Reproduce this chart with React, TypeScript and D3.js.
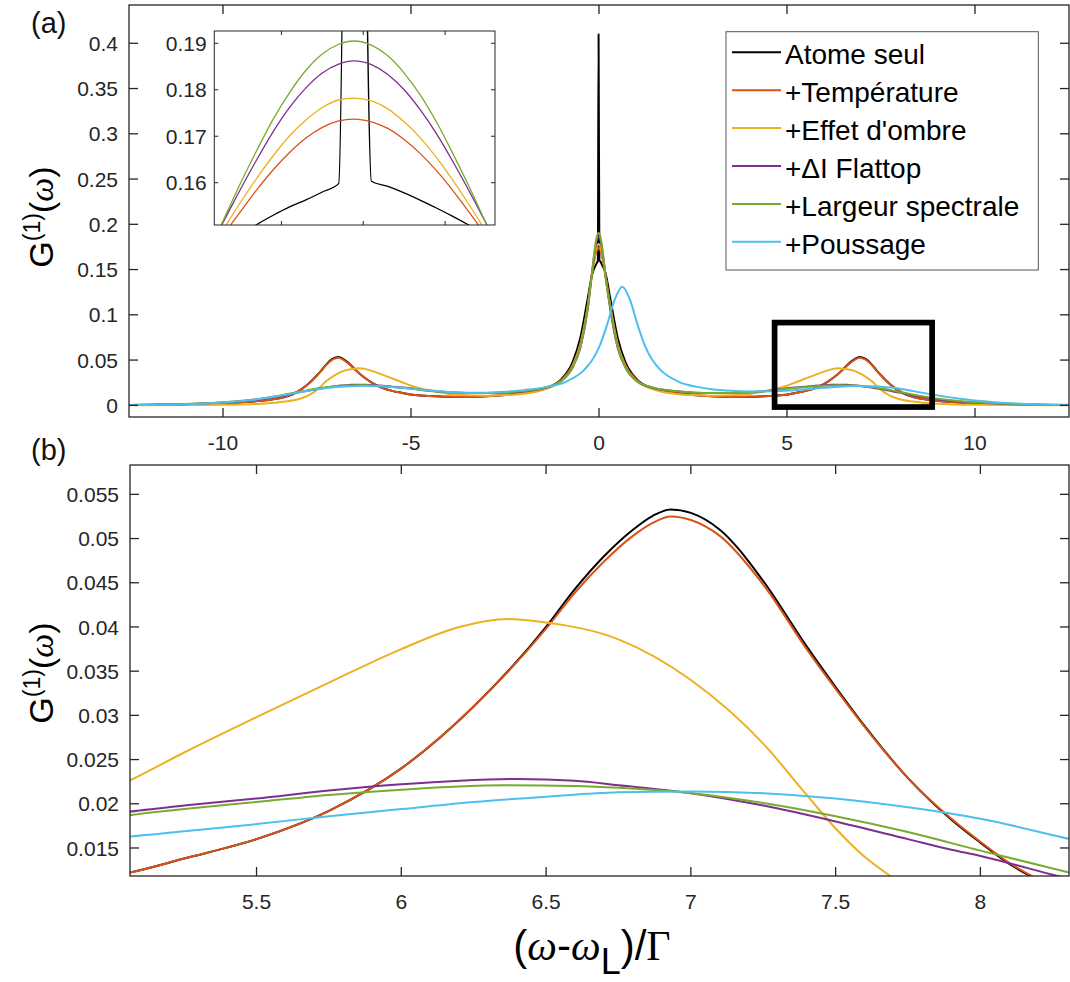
import React from 'react';
import * as d3 from 'd3';

type P = [number, number];

// ---------- DATA ----------
const seriesNames = ["Atome seul", "+Température", "+Effet d'ombre", "+\u0394I Flattop", "+Largeur spectrale", "+Poussage"];
const seriesColors = ["#000000", "#D95319", "#EDB120", "#7E2F8E", "#77AC30", "#4DBEEE"];

const atomeSeul: P[] = [
  [-12.5, 0.0004], [-11, 0.0011], [-10, 0.0023], [-9.5, 0.0033], [-9, 0.005], [-8.5, 0.0078], [-8.3, 0.0099], [-8.18, 0.0117], [-8.1, 0.0132], [-8, 0.0156], [-7.9, 0.0182], [-7.75, 0.0229], [-7.6, 0.0288], [-7.5, 0.0332], [-7.4, 0.0378], [-7.25, 0.0452], [-7.1, 0.051], [-7, 0.0529], [-6.93, 0.0533], [-6.87, 0.0526], [-6.8, 0.051], [-6.7, 0.048], [-6.6, 0.0443], [-6.5, 0.04], [-6.25, 0.031], [-6, 0.024], [-5.75, 0.0192], [-5.5, 0.016], [-5.25, 0.0138], [-5.06, 0.0122], [-4.5, 0.0103], [-4, 0.0094], [-3.5, 0.0093], [-3, 0.01], [-2.5, 0.0115], [-2, 0.0138], [-1.5, 0.0178], [-1, 0.029], [-0.7, 0.048], [-0.5, 0.074], [-0.3, 0.118],
  [-0.19, 0.1432], [-0.17, 0.1462], [-0.15, 0.1487], [-0.13, 0.151], [-0.11, 0.153], [-0.09, 0.1548], [-0.07, 0.1563], [-0.05, 0.158], [-0.03, 0.1598], [-0.0115, 0.41], [0.01, 0.1603], [0.03, 0.1592], [0.05, 0.1578], [0.07, 0.1562], [0.09, 0.1545], [0.11, 0.1527], [0.13, 0.1508], [0.15, 0.1488], [0.17, 0.1465],
  [0.3, 0.118], [0.5, 0.074], [0.7, 0.048], [1, 0.029], [1.5, 0.0178], [2, 0.0138], [2.5, 0.0115], [3, 0.01], [3.5, 0.0093], [4, 0.0094], [4.5, 0.0103], [5.06, 0.0122], [5.25, 0.0138], [5.5, 0.016], [5.75, 0.0192], [6, 0.024], [6.25, 0.031], [6.5, 0.04], [6.6, 0.0443], [6.7, 0.048], [6.8, 0.051], [6.87, 0.0526], [6.93, 0.0533], [7, 0.0529], [7.1, 0.051], [7.25, 0.0452], [7.4, 0.0378], [7.5, 0.0332], [7.6, 0.0288], [7.75, 0.0229], [7.9, 0.0182], [8, 0.0156], [8.1, 0.0132], [8.18, 0.0117], [8.3, 0.0099], [8.5, 0.0078], [9, 0.005], [9.5, 0.0033], [10, 0.0023], [11, 0.0011], [12.5, 0.0004],
];

const temperature: P[] = [
  [-12.5, 0.0004], [-11, 0.0011], [-10, 0.0023], [-9.5, 0.0033], [-9, 0.005], [-8.5, 0.0078], [-8.3, 0.01], [-8.18, 0.0118], [-8.1, 0.0133], [-8, 0.0157], [-7.9, 0.0183], [-7.75, 0.0229], [-7.6, 0.0287], [-7.5, 0.033], [-7.4, 0.0375], [-7.25, 0.0448], [-7.1, 0.0503], [-7, 0.0521], [-6.93, 0.0525], [-6.87, 0.0518], [-6.8, 0.0503], [-6.7, 0.0474], [-6.6, 0.0439], [-6.5, 0.0398], [-6.25, 0.031], [-6, 0.024], [-5.75, 0.0192], [-5.5, 0.016], [-5.25, 0.0138], [-5.06, 0.0122], [-4.5, 0.0103], [-4, 0.0094], [-3.5, 0.0093], [-3, 0.01], [-2.5, 0.0115], [-2, 0.0137], [-1.5, 0.0175], [-1, 0.0279], [-0.7, 0.0446], [-0.5, 0.0676], [-0.3, 0.11],
  [-0.19, 0.144], [-0.17, 0.149], [-0.15, 0.1538], [-0.13, 0.1585], [-0.11, 0.1628], [-0.09, 0.1665], [-0.07, 0.1696], [-0.05, 0.1719], [-0.03, 0.1733], [-0.0115, 0.1737], [0.01, 0.1731], [0.03, 0.1717], [0.05, 0.1693], [0.07, 0.1662], [0.09, 0.1625], [0.11, 0.1582], [0.13, 0.1535], [0.15, 0.1486], [0.17, 0.1436],
  [0.3, 0.11], [0.5, 0.0676], [0.7, 0.0446], [1, 0.0279], [1.5, 0.0175], [2, 0.0137], [2.5, 0.0115], [3, 0.01], [3.5, 0.0093], [4, 0.0094], [4.5, 0.0103], [5.06, 0.0122], [5.25, 0.0138], [5.5, 0.016], [5.75, 0.0192], [6, 0.024], [6.25, 0.031], [6.5, 0.0398], [6.6, 0.0439], [6.7, 0.0474], [6.8, 0.0503], [6.87, 0.0518], [6.93, 0.0525], [7, 0.0521], [7.1, 0.0503], [7.25, 0.0448], [7.4, 0.0375], [7.5, 0.033], [7.6, 0.0287], [7.75, 0.0229], [7.9, 0.0183], [8, 0.0157], [8.1, 0.0133], [8.18, 0.0118], [8.3, 0.01], [8.5, 0.0078], [9, 0.005], [9.5, 0.0033], [10, 0.0023], [11, 0.0011], [12.5, 0.0004],
];

const effetOmbre: P[] = [
  [-12.5, 0.0001], [-11, 0.0003], [-10, 0.0006], [-9, 0.0018], [-8.5, 0.0035], [-8, 0.0068], [-7.8, 0.0095], [-7.69, 0.0118], [-7.6, 0.014], [-7.5, 0.0172], [-7.4, 0.021], [-7.25, 0.0268], [-7, 0.034], [-6.75, 0.0386], [-6.5, 0.0405], [-6.37, 0.0409], [-6.2, 0.04], [-6, 0.0375], [-5.75, 0.0337], [-5.5, 0.0298], [-5.25, 0.0258], [-5.06, 0.0226], [-4.5, 0.0165], [-4, 0.0125], [-3.5, 0.011], [-3, 0.0106], [-2.5, 0.0113], [-2, 0.0128], [-1.5, 0.017], [-1, 0.027], [-0.7, 0.043], [-0.5, 0.066], [-0.3, 0.109],
  [-0.19, 0.1444], [-0.17, 0.1502], [-0.15, 0.1558], [-0.13, 0.161], [-0.11, 0.1658], [-0.09, 0.1701], [-0.07, 0.1735], [-0.05, 0.1762], [-0.03, 0.1778], [-0.0115, 0.1782], [0.01, 0.1776], [0.03, 0.1759], [0.05, 0.1731], [0.07, 0.1696], [0.09, 0.1653], [0.11, 0.1604], [0.13, 0.1551], [0.15, 0.1495], [0.17, 0.1437],
  [0.3, 0.109], [0.5, 0.066], [0.7, 0.043], [1, 0.027], [1.5, 0.017], [2, 0.0128], [2.5, 0.0113], [3, 0.0106], [3.5, 0.011], [4, 0.0125], [4.5, 0.0165], [5.06, 0.0226], [5.25, 0.0258], [5.5, 0.0298], [5.75, 0.0337], [6, 0.0375], [6.2, 0.04], [6.37, 0.0409], [6.5, 0.0405], [6.75, 0.0386], [7, 0.034], [7.25, 0.0268], [7.4, 0.021], [7.5, 0.0172], [7.6, 0.014], [7.69, 0.0118], [7.8, 0.0095], [8, 0.0068], [8.5, 0.0035], [9, 0.0018], [10, 0.0006], [11, 0.0003], [12.5, 0.0001],
];

const flattop: P[] = [
  [-12.5, 0.0004], [-11, 0.0013], [-10, 0.003], [-9.5, 0.0045], [-9, 0.0068], [-8.5, 0.01], [-8.27, 0.0118], [-8, 0.0141], [-7.75, 0.016], [-7.5, 0.018], [-7.25, 0.0198], [-7, 0.0212], [-6.75, 0.0221], [-6.6, 0.0226], [-6.4, 0.0228], [-6.2, 0.0226], [-6, 0.0222], [-5.75, 0.0215], [-5.5, 0.0206], [-5.25, 0.0198], [-5.06, 0.0191], [-4.5, 0.016], [-4, 0.0145], [-3.5, 0.0137], [-3, 0.0135], [-2.5, 0.014], [-2, 0.0158], [-1.5, 0.0186], [-1, 0.027], [-0.7, 0.042], [-0.5, 0.063], [-0.3, 0.106],
  [-0.19, 0.1452], [-0.17, 0.1519], [-0.15, 0.1586], [-0.13, 0.165], [-0.11, 0.171], [-0.09, 0.1762], [-0.07, 0.1804], [-0.05, 0.1836], [-0.03, 0.1855], [-0.0115, 0.1862], [0.01, 0.1854], [0.03, 0.1833], [0.05, 0.18], [0.07, 0.1756], [0.09, 0.1704], [0.11, 0.1644], [0.13, 0.158], [0.15, 0.1513], [0.17, 0.1446],
  [0.3, 0.106], [0.5, 0.063], [0.7, 0.042], [1, 0.027], [1.5, 0.0186], [2, 0.0158], [2.5, 0.014], [3, 0.0135], [3.5, 0.0137], [4, 0.0145], [4.5, 0.016], [5.06, 0.0191], [5.25, 0.0198], [5.5, 0.0206], [5.75, 0.0215], [6, 0.0222], [6.2, 0.0226], [6.4, 0.0228], [6.6, 0.0226], [6.75, 0.0221], [7, 0.0212], [7.25, 0.0198], [7.5, 0.018], [7.75, 0.016], [7.9, 0.0148], [8, 0.0141], [8.27, 0.0118], [8.5, 0.01], [9, 0.0068], [9.5, 0.0045], [10, 0.003], [11, 0.0013], [12.5, 0.0004],
];

const largeurSpectrale: P[] = [
  [-12.5, 0.0004], [-11, 0.0014], [-10, 0.0033], [-9.5, 0.005], [-9, 0.0074], [-8.5, 0.0107], [-8.31, 0.0122], [-8, 0.0147], [-7.75, 0.0168], [-7.5, 0.0186], [-7.25, 0.0201], [-7, 0.0212], [-6.75, 0.0218], [-6.6, 0.022], [-6.35, 0.0221], [-6, 0.0216], [-5.75, 0.021], [-5.5, 0.0202], [-5.25, 0.0194], [-5.06, 0.0187], [-4.5, 0.0158], [-4, 0.0143], [-3.5, 0.0137], [-3, 0.0136], [-2.5, 0.0143], [-2, 0.0158], [-1.5, 0.019], [-1, 0.027], [-0.7, 0.042], [-0.5, 0.064], [-0.3, 0.108],
  [-0.19, 0.1446], [-0.17, 0.1523], [-0.15, 0.1599], [-0.13, 0.167], [-0.11, 0.1737], [-0.09, 0.1794], [-0.07, 0.1842], [-0.05, 0.1877], [-0.03, 0.1898], [-0.0115, 0.1905], [0.01, 0.1896], [0.03, 0.1873], [0.05, 0.1836], [0.07, 0.1788], [0.09, 0.1729], [0.11, 0.1661], [0.13, 0.1589], [0.15, 0.1513], [0.17, 0.1437],
  [0.3, 0.108], [0.5, 0.064], [0.7, 0.042], [1, 0.027], [1.5, 0.019], [2, 0.0158], [2.5, 0.0143], [3, 0.0136], [3.5, 0.0137], [4, 0.0143], [4.5, 0.0158], [5.06, 0.0187], [5.25, 0.0194], [5.5, 0.0202], [5.75, 0.021], [6, 0.0216], [6.35, 0.0221], [6.6, 0.022], [6.75, 0.0218], [7, 0.0212], [7.25, 0.0201], [7.5, 0.0186], [7.75, 0.0168], [8, 0.0147], [8.31, 0.0122], [8.5, 0.0107], [9, 0.0074], [9.5, 0.005], [10, 0.0033], [11, 0.0014], [12.5, 0.0004],
];

const poussage: P[] = [
  [-12.5, 0.0004], [-11, 0.0013], [-10, 0.0032], [-9.5, 0.0048], [-9, 0.0072], [-8.5, 0.0105], [-8, 0.0142], [-7.5, 0.0178], [-7, 0.0202], [-6.5, 0.0214], [-6.2, 0.0216], [-6, 0.0215], [-5.5, 0.0202], [-5, 0.0185], [-4.5, 0.0165], [-4, 0.0148], [-3.5, 0.0138], [-3, 0.014], [-2.5, 0.015], [-2, 0.0168], [-1.38, 0.0204], [-0.88, 0.026], [-0.38, 0.0397], [-0.18, 0.05], [0.02, 0.066], [0.22, 0.0898], [0.42, 0.117], [0.62, 0.131], [0.82, 0.117], [1.02, 0.0898], [1.22, 0.066], [1.42, 0.05], [1.62, 0.0397], [2.12, 0.026], [2.62, 0.0204], [3, 0.0178], [3.5, 0.016], [4, 0.0153], [4.5, 0.0155], [5.06, 0.0163], [5.25, 0.0169], [5.5, 0.0177], [5.75, 0.0186], [6, 0.0194], [6.25, 0.0202], [6.5, 0.0208], [6.75, 0.0213], [7, 0.0214], [7.25, 0.0212], [7.5, 0.0206], [7.75, 0.0196], [8, 0.0183], [8.31, 0.016], [8.5, 0.0146], [9, 0.011], [9.5, 0.0078], [10, 0.0052], [10.5, 0.0034], [11, 0.0022], [12, 0.0008], [12.5, 0.0005],
];

const allSeries: P[][] = [atomeSeul, temperature, effetOmbre, flattop, largeurSpectrale, poussage];

const ticksAX = [-10, -5, 0, 5, 10];
const ticksAY = [0, 0.05, 0.1, 0.15, 0.2, 0.25, 0.3, 0.35, 0.4];
const ticksBX = [5.5, 6, 6.5, 7, 7.5, 8];
const ticksBY = [0.015, 0.02, 0.025, 0.03, 0.035, 0.04, 0.045, 0.05, 0.055];
const ticksIX = [-0.1, 0, 0.1];
const ticksIY = [0.16, 0.17, 0.18, 0.19];

const domainAX: [number, number] = [-12.5, 12.5];
const domainAY: [number, number] = [-0.0129, 0.4423];
const domainBX: [number, number] = [5.063, 8.306];
const domainBY: [number, number] = [0.01183, 0.05832];
const domainIX: [number, number] = [-0.182, 0.161];
const domainIY: [number, number] = [0.1509, 0.19265];
const zoomRegion = { x0: 4.67, x1: 8.86, y0: -0.0019, y1: 0.0914 };

// ---------- LAYOUT ----------
const W = 1070, H = 982;
const boxA = { l: 129, r: 1069, t: 5, b: 417 };
const boxB = { l: 130, r: 1069, t: 465, b: 876 };
const boxI = { l: 214.3, r: 495, t: 31, b: 225 };
const AXC = '#262626';
const SANS = "'Liberation Sans', Arial, Helvetica, sans-serif";
const SERIF = "'Liberation Serif', 'DejaVu Serif', serif";

const fmt = (v: number) => {
  const s = d3.format('~g')(v);
  return s.replace('\u2212', '-');
};

type Box = { l: number; r: number; t: number; b: number };

function Frame({ box, x, y, xt, yt, tl, labels, labelGap, xLabelOff, sw }: {
  box: Box; x: d3.ScaleLinear<number, number>; y: d3.ScaleLinear<number, number>;
  xt: number[]; yt: number[]; tl: number; labels: { x: boolean; y: boolean }; labelGap: number; xLabelOff: number; sw: number;
}) {
  return (
    <g>
      <rect x={box.l} y={box.t} width={box.r - box.l} height={box.b - box.t} fill="none" stroke={AXC} strokeWidth={sw} />
      {xt.map((v, i) => (
        <g key={'x' + i}>
          <line x1={x(v)} x2={x(v)} y1={box.b} y2={box.b - tl} stroke={AXC} strokeWidth={sw} />
          <line x1={x(v)} x2={x(v)} y1={box.t} y2={box.t + tl} stroke={AXC} strokeWidth={sw} />
          {labels.x && (
            <text x={x(v)} y={box.b + xLabelOff} textAnchor="middle" fontFamily={SANS} fontSize={21} fill={AXC}>{fmt(v)}</text>
          )}
        </g>
      ))}
      {yt.map((v, i) => (
        <g key={'y' + i}>
          <line x1={box.l} x2={box.l + tl} y1={y(v)} y2={y(v)} stroke={AXC} strokeWidth={sw} />
          <line x1={box.r} x2={box.r - tl} y1={y(v)} y2={y(v)} stroke={AXC} strokeWidth={sw} />
          {labels.y && (
            <text x={box.l - labelGap} y={y(v)} dy="0.36em" textAnchor="end" fontFamily={SANS} fontSize={21} fill={AXC}>{fmt(v)}</text>
          )}
        </g>
      ))}
    </g>
  );
}

function Curves({ id, box, x, y, width }: { id: string; box: Box; x: d3.ScaleLinear<number, number>; y: d3.ScaleLinear<number, number>; width: number }) {
  const line = d3.line<P>().x(d => x(d[0])).y(d => y(d[1])).curve(d3.curveMonotoneX);
  return (
    <g>
      <defs>
        <clipPath id={id}>
          <rect x={box.l} y={box.t} width={box.r - box.l} height={box.b - box.t} />
        </clipPath>
      </defs>
      <g clipPath={`url(#${id})`}>
        {allSeries.map((s, i) => (
          <path key={i} d={line(s) || ''} fill="none" stroke={seriesColors[i]} strokeWidth={width} strokeLinejoin="round" />
        ))}
      </g>
    </g>
  );
}

function YLabel({ x, y }: { x: number; y: number }) {
  return (
    <text transform={`translate(${x},${y}) rotate(-90)`} textAnchor="middle" fontSize={34} fill="#000">
      <tspan fontFamily={SANS}>G</tspan>
      <tspan fontFamily={SANS} fontSize={23} dy={-13}>(1)</tspan>
      <tspan fontFamily={SANS} dy={13}>(</tspan>
      <tspan fontFamily={SERIF} fontStyle="italic">ω</tspan>
      <tspan fontFamily={SANS}>)</tspan>
    </text>
  );
}

export default function App() {
  const xA = d3.scaleLinear().domain(domainAX).range([boxA.l, boxA.r]);
  const yA = d3.scaleLinear().domain(domainAY).range([boxA.b, boxA.t]);
  const xB = d3.scaleLinear().domain(domainBX).range([boxB.l, boxB.r]);
  const yB = d3.scaleLinear().domain(domainBY).range([boxB.b, boxB.t]);
  const xI = d3.scaleLinear().domain(domainIX).range([boxI.l, boxI.r]);
  const yI = d3.scaleLinear().domain(domainIY).range([boxI.b, boxI.t]);

  const legX = 726, legY = 31.7, legW = 312.3, legH = 238.3;
  const rowY0 = 52.3, rowDY = 37.9;

  return (
    <svg width={W} height={H} viewBox={`0 0 ${W} ${H}`} style={{ position: 'absolute', left: 0, top: 0, background: '#fff' }}>
      <rect x={0} y={0} width={W} height={H} fill="#fff" />

      {/* Panel (a) */}
      <Curves id="clipA" box={boxA} x={xA} y={yA} width={2} />
      <Frame box={boxA} x={xA} y={yA} xt={ticksAX} yt={ticksAY} tl={9} labels={{ x: true, y: true }} labelGap={11} xLabelOff={32.5} sw={1.3} />
      <rect x={xA(zoomRegion.x0)} y={yA(zoomRegion.y1)} width={xA(zoomRegion.x1) - xA(zoomRegion.x0)} height={yA(zoomRegion.y0) - yA(zoomRegion.y1)} fill="none" stroke="#000" strokeWidth={5.7} />

      {/* Inset */}
      <rect x={boxI.l} y={boxI.t} width={boxI.r - boxI.l} height={boxI.b - boxI.t} fill="#fff" />
      <Curves id="clipI" box={boxI} x={xI} y={yI} width={1.3} />
      <Frame box={boxI} x={xI} y={yI} xt={ticksIX} yt={ticksIY} tl={4} labels={{ x: false, y: true }} labelGap={7.6} xLabelOff={0} sw={1} />

      {/* Legend */}
      <rect x={legX} y={legY} width={legW} height={legH} fill="#fff" stroke="#555" strokeWidth={1} />
      {seriesNames.map((n, i) => (
        <g key={n}>
          <line x1={732} x2={781} y1={rowY0 + i * rowDY} y2={rowY0 + i * rowDY} stroke={seriesColors[i]} strokeWidth={2} />
          <text x={785} y={rowY0 + i * rowDY + 12} fontFamily={SANS} fontSize={28} fill="#000">{n}</text>
        </g>
      ))}

      {/* Panel (b) */}
      <Curves id="clipB" box={boxB} x={xB} y={yB} width={2} />
      <Frame box={boxB} x={xB} y={yB} xt={ticksBX} yt={ticksBY} tl={9} labels={{ x: true, y: true }} labelGap={11} xLabelOff={33} sw={1.3} />

      {/* Axis labels */}
      <YLabel x={53} y={217} />
      <YLabel x={53} y={673} />
      <text x={592} y={960} textAnchor="middle" fontSize={42} fill="#000">
        <tspan fontFamily={SANS}>(</tspan>
        <tspan fontFamily={SERIF} fontStyle="italic">ω</tspan>
        <tspan fontFamily={SANS}>-</tspan>
        <tspan fontFamily={SERIF} fontStyle="italic">ω</tspan>
        <tspan fontFamily={SANS} fontSize={36} dy={14}>L</tspan>
        <tspan fontFamily={SANS} dy={-14}>)/</tspan>
        <tspan fontFamily={SERIF}>Γ</tspan>
      </text>

      {/* Panel tags */}
      <text x={31} y={33} fontFamily={SANS} fontSize={29} fill="#111">(a)</text>
      <text x={31} y={460} fontFamily={SANS} fontSize={29} fill="#111">(b)</text>
    </svg>
  );
}
